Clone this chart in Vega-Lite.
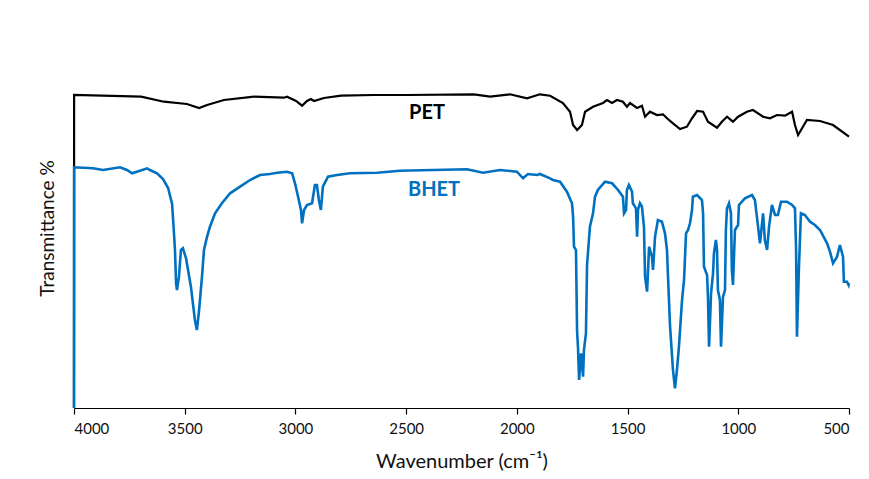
{
  "$schema": "https://vega.github.io/schema/vega-lite/v6.json",
  "width": 775,
  "height": 330,
  "autosize": "none",
  "padding": {"left": 74, "top": 78, "right": 20, "bottom": 71},
  "background": "white",
  "config": {"view": {"stroke": null}, "font": "Lato"},
  "datasets": {
    "pet": [
      {"w": 4000, "t": 0}, {"w": 3999.5, "t": 313}, {"w": 3697, "t": 311.3}, {"w": 3594, "t": 306.3}, {"w": 3490, "t": 304},
      {"w": 3435, "t": 300}, {"w": 3399, "t": 303}, {"w": 3323, "t": 308}, {"w": 3187, "t": 311.3}, {"w": 3052, "t": 310.3},
      {"w": 3038, "t": 311.3}, {"w": 2997, "t": 307}, {"w": 2970, "t": 302.3}, {"w": 2948, "t": 307}, {"w": 2930, "t": 309},
      {"w": 2916, "t": 307}, {"w": 2871, "t": 310}, {"w": 2794, "t": 312.3}, {"w": 2645, "t": 313}, {"w": 2496, "t": 313},
      {"w": 2194, "t": 313.7}, {"w": 2121, "t": 311.3}, {"w": 2031, "t": 313.7}, {"w": 1954, "t": 309.7}, {"w": 1896, "t": 313.7},
      {"w": 1850, "t": 312.3}, {"w": 1792, "t": 305}, {"w": 1760, "t": 296.3}, {"w": 1746, "t": 283}, {"w": 1728, "t": 278},
      {"w": 1706, "t": 283}, {"w": 1692, "t": 296.3}, {"w": 1656, "t": 301.3}, {"w": 1611, "t": 305}, {"w": 1593, "t": 308},
      {"w": 1570, "t": 305}, {"w": 1548, "t": 308}, {"w": 1521, "t": 306.3}, {"w": 1503, "t": 301.3}, {"w": 1489, "t": 305},
      {"w": 1457, "t": 300}, {"w": 1435, "t": 302.3}, {"w": 1421, "t": 291.3}, {"w": 1399, "t": 296.3}, {"w": 1367, "t": 293},
      {"w": 1340, "t": 293.7}, {"w": 1322, "t": 289.7}, {"w": 1295, "t": 284.7}, {"w": 1263, "t": 279}, {"w": 1232, "t": 281.3},
      {"w": 1209, "t": 289.7}, {"w": 1186, "t": 297}, {"w": 1159, "t": 296.3}, {"w": 1137, "t": 286.3}, {"w": 1096, "t": 280.3},
      {"w": 1074, "t": 286.3}, {"w": 1051, "t": 291.3}, {"w": 1024, "t": 286.3}, {"w": 1001, "t": 291.3}, {"w": 961, "t": 296.3},
      {"w": 934, "t": 298}, {"w": 888, "t": 291.3}, {"w": 857, "t": 289.7}, {"w": 825, "t": 293}, {"w": 789, "t": 292.3},
      {"w": 757, "t": 296.3}, {"w": 744, "t": 283}, {"w": 730, "t": 273}, {"w": 712, "t": 279.7}, {"w": 690, "t": 288},
      {"w": 631, "t": 287}, {"w": 572, "t": 283}, {"w": 500, "t": 271.3}
    ],
    "bhet": [
      {"w": 4000, "t": 0}, {"w": 3999.5, "t": 240.7}, {"w": 3914, "t": 239.7}, {"w": 3869, "t": 238}, {"w": 3792, "t": 240.7},
      {"w": 3761, "t": 238}, {"w": 3738, "t": 234.7}, {"w": 3702, "t": 237.3}, {"w": 3670, "t": 239.7}, {"w": 3657, "t": 238},
      {"w": 3625, "t": 234.7}, {"w": 3598, "t": 229}, {"w": 3575, "t": 220}, {"w": 3557, "t": 204}, {"w": 3550, "t": 180},
      {"w": 3544, "t": 158}, {"w": 3539, "t": 124.7}, {"w": 3535, "t": 118}, {"w": 3526, "t": 131.3}, {"w": 3517, "t": 158},
      {"w": 3508, "t": 159.7}, {"w": 3494, "t": 149.7}, {"w": 3485, "t": 138}, {"w": 3472, "t": 121.3}, {"w": 3463, "t": 104.7},
      {"w": 3454, "t": 88}, {"w": 3445, "t": 78}, {"w": 3435, "t": 98}, {"w": 3422, "t": 131.3}, {"w": 3413, "t": 158},
      {"w": 3399, "t": 171.3}, {"w": 3386, "t": 181.3}, {"w": 3363, "t": 194.7}, {"w": 3332, "t": 204.7}, {"w": 3295, "t": 214.7},
      {"w": 3250, "t": 221.3}, {"w": 3205, "t": 228}, {"w": 3160, "t": 233}, {"w": 3115, "t": 234}, {"w": 3083, "t": 235.3},
      {"w": 3038, "t": 236.3}, {"w": 3015, "t": 234.7}, {"w": 3002, "t": 224.7}, {"w": 2988, "t": 211.3}, {"w": 2975, "t": 198},
      {"w": 2970, "t": 184.7}, {"w": 2961, "t": 198}, {"w": 2948, "t": 203}, {"w": 2925, "t": 204.7}, {"w": 2912, "t": 223},
      {"w": 2903, "t": 223}, {"w": 2894, "t": 208}, {"w": 2885, "t": 198}, {"w": 2876, "t": 221.3}, {"w": 2853, "t": 231.3},
      {"w": 2812, "t": 233}, {"w": 2754, "t": 234.7}, {"w": 2632, "t": 235.3}, {"w": 2528, "t": 237.3}, {"w": 2379, "t": 238},
      {"w": 2225, "t": 238.7}, {"w": 2153, "t": 235.3}, {"w": 2076, "t": 238}, {"w": 2000, "t": 236.3}, {"w": 1972, "t": 229.7},
      {"w": 1950, "t": 234}, {"w": 1909, "t": 233}, {"w": 1896, "t": 234}, {"w": 1850, "t": 229.7}, {"w": 1837, "t": 228},
      {"w": 1805, "t": 226.3}, {"w": 1774, "t": 216.3}, {"w": 1751, "t": 204.7}, {"w": 1746, "t": 191.3}, {"w": 1742, "t": 161.3},
      {"w": 1733, "t": 158}, {"w": 1728, "t": 76.3}, {"w": 1724, "t": 61.3}, {"w": 1719, "t": 28}, {"w": 1710, "t": 54.7},
      {"w": 1701, "t": 31.3}, {"w": 1697, "t": 58}, {"w": 1688, "t": 74.7}, {"w": 1683, "t": 143}, {"w": 1670, "t": 181.3},
      {"w": 1656, "t": 194.7}, {"w": 1647, "t": 211.3}, {"w": 1634, "t": 218}, {"w": 1602, "t": 226.3}, {"w": 1570, "t": 224.7},
      {"w": 1543, "t": 218}, {"w": 1521, "t": 211.3}, {"w": 1516, "t": 194.7}, {"w": 1507, "t": 198}, {"w": 1503, "t": 218},
      {"w": 1494, "t": 223}, {"w": 1480, "t": 216.3}, {"w": 1476, "t": 204.7}, {"w": 1462, "t": 199.7}, {"w": 1457, "t": 171.3},
      {"w": 1453, "t": 198}, {"w": 1444, "t": 204.7}, {"w": 1435, "t": 201.3}, {"w": 1426, "t": 181.3}, {"w": 1421, "t": 131.3},
      {"w": 1412, "t": 116.3}, {"w": 1408, "t": 134.7}, {"w": 1403, "t": 161.3}, {"w": 1390, "t": 151.3}, {"w": 1385, "t": 138},
      {"w": 1376, "t": 171.3}, {"w": 1363, "t": 188}, {"w": 1345, "t": 186.3}, {"w": 1331, "t": 174.7}, {"w": 1322, "t": 158},
      {"w": 1318, "t": 134.7}, {"w": 1308, "t": 81.3}, {"w": 1295, "t": 38}, {"w": 1286, "t": 19.7}, {"w": 1277, "t": 38},
      {"w": 1268, "t": 61.3}, {"w": 1254, "t": 108}, {"w": 1245, "t": 128}, {"w": 1236, "t": 174.7}, {"w": 1227, "t": 178},
      {"w": 1218, "t": 184.7}, {"w": 1209, "t": 198}, {"w": 1205, "t": 211.3}, {"w": 1186, "t": 213}, {"w": 1164, "t": 208},
      {"w": 1159, "t": 194.7}, {"w": 1155, "t": 141.3}, {"w": 1141, "t": 133}, {"w": 1137, "t": 111.3}, {"w": 1132, "t": 61.3},
      {"w": 1123, "t": 114.7}, {"w": 1114, "t": 134.7}, {"w": 1110, "t": 154.7}, {"w": 1101, "t": 168}, {"w": 1096, "t": 158},
      {"w": 1092, "t": 118}, {"w": 1083, "t": 108}, {"w": 1078, "t": 61.3}, {"w": 1069, "t": 111.3}, {"w": 1060, "t": 118},
      {"w": 1056, "t": 178}, {"w": 1051, "t": 199.7}, {"w": 1042, "t": 204.7}, {"w": 1033, "t": 194.7}, {"w": 1029, "t": 138},
      {"w": 1024, "t": 123}, {"w": 1015, "t": 178}, {"w": 1001, "t": 183}, {"w": 997, "t": 203}, {"w": 970, "t": 209.7},
      {"w": 938, "t": 213}, {"w": 925, "t": 208}, {"w": 916, "t": 191.3}, {"w": 902, "t": 164.7}, {"w": 888, "t": 194.7},
      {"w": 880, "t": 168}, {"w": 870, "t": 158}, {"w": 861, "t": 181.3}, {"w": 848, "t": 203}, {"w": 834, "t": 193},
      {"w": 821, "t": 193}, {"w": 807, "t": 206.3}, {"w": 780, "t": 206.3}, {"w": 757, "t": 203}, {"w": 744, "t": 199.7},
      {"w": 739, "t": 158}, {"w": 735, "t": 71.3}, {"w": 726, "t": 141.3}, {"w": 717, "t": 194.7}, {"w": 699, "t": 193},
      {"w": 676, "t": 186.3}, {"w": 654, "t": 183}, {"w": 631, "t": 178}, {"w": 599, "t": 164.7}, {"w": 586, "t": 156.3},
      {"w": 572, "t": 144.7}, {"w": 554, "t": 151.3}, {"w": 541, "t": 163}, {"w": 527, "t": 151.3}, {"w": 523, "t": 126.3},
      {"w": 509, "t": 126.3}, {"w": 502, "t": 123}, {"w": 500, "t": 125}
    ],
    "labels": [
      {"w": 2406, "t": 295, "name": "PET", "c": "PET"},
      {"w": 2374, "t": 218, "name": "BHET", "c": "BHET"}
    ]
  },
  "encoding": {
    "x": {
      "field": "w", "type": "quantitative",
      "scale": {"domain": [500, 4000], "reverse": true, "nice": false, "zero": false},
      "axis": {
        "values": [4000, 3500, 3000, 2500, 2000, 1500, 1000, 500],
        "format": "d", "grid": false,
        "domainColor": "#000000", "domainWidth": 1.2, "tickColor": "#000000", "tickSize": 6, "tickWidth": 1.2,
        "labelFontSize": 15, "labelColor": "#111111", "labelPadding": 7, "labelFont": "Lato",
        "title": "Wavenumber (cm⁻¹)", "titleFontSize": 20, "titleFontWeight": "normal", "titleColor": "#111111",
        "titlePadding": 15, "titleFont": "Lato"
      }
    },
    "y": {
      "field": "t", "type": "quantitative",
      "scale": {"domain": [0, 330], "nice": false},
      "axis": {
        "domain": false, "ticks": false, "labels": false, "grid": false,
        "title": "Transmittance %", "titleFontSize": 19, "titleFontWeight": "normal", "titleColor": "#111111",
        "titleFont": "Lato", "titleY": 150, "titleX": -17
      }
    }
  },
  "layer": [
    {
      "data": {"name": "pet"},
      "mark": {"type": "line", "color": "#000000", "strokeWidth": 2.2, "interpolate": "linear"}
    },
    {
      "data": {"name": "bhet"},
      "mark": {"type": "line", "color": "#0070C0", "strokeWidth": 2.6, "interpolate": "linear"}
    },
    {
      "data": {"name": "labels"},
      "mark": {"type": "text", "fontSize": 20, "fontWeight": "bold", "font": "Lato", "align": "center", "baseline": "middle"},
      "encoding": {
        "text": {"field": "name"},
        "color": {"field": "c", "type": "nominal", "scale": {"domain": ["PET", "BHET"], "range": ["#000000", "#0070C0"]}, "legend": null}
      }
    }
  ]
}
